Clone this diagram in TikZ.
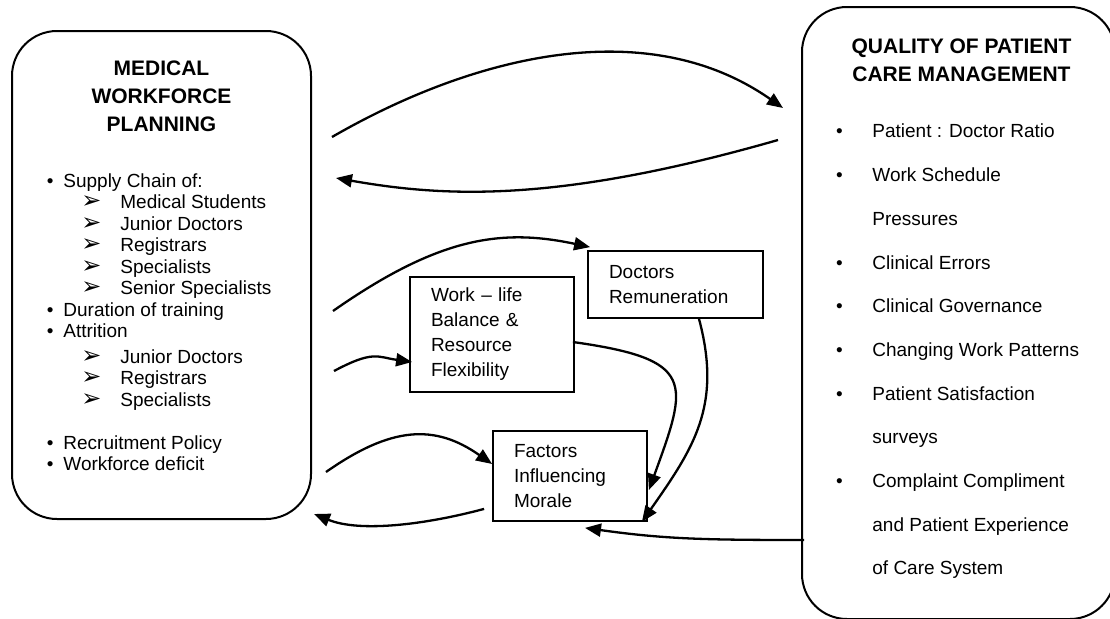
\documentclass[tikz,border=0pt]{standalone}
\usepackage{fontspec}
\setmainfont{Liberation Sans}
\newfontfamily\dingfont{DejaVu Sans}
\usetikzlibrary{arrows.meta, positioning}

% list markers
\newcommand{\lbul}{\makebox[8.25pt][l]{•}}
\newcommand{\lsub}{\hspace*{17.25pt}\makebox[19.5pt][l]{\smash{\dingfont\fontsize{12}{12}\selectfont ➢}}}
\newcommand{\rbul}{\makebox[18.15pt][l]{•}}
\newcommand{\rgap}{\hspace*{18.15pt}}

\begin{document}
\begin{tikzpicture}[
    x=0.5pt, y=0.5pt,
    panel/.style={draw, line width=1pt, rounded corners=22.5pt, inner sep=0pt},
    heading/.style={align=center, inner sep=0pt,
                    font=\fontsize{10.5}{14}\selectfont\bfseries},
    items/.style={align=left, inner sep=0pt, anchor=west},
    factor/.style={draw, line width=0.9pt, align=left, inner xsep=10.5pt,
                   font=\fontsize{9.5}{12.5}\selectfont},
    arrow/.style={-{Triangle[length=8pt,width=6.5pt]}, line width=1.15pt}
]
    \useasboundingbox (0,0) rectangle (1110,618);

    % The two main panels
    \node[panel, minimum width=149.5pt, minimum height=244pt] (planning) at (161.5,343) {};
    \node[panel, minimum width=156.5pt, minimum height=306pt] (care) at (958.5,305) {};

    \node[heading] (planning-title) at (161.5,521.5) {MEDICAL\\WORKFORCE\\PLANNING};
    \node[items, font=\fontsize{9.5}{10.75}\selectfont] (planning-list) at (46.5,296) {%
        \lbul Supply Chain of:\\
        \lsub Medical Students\\
        \lsub Junior Doctors\\
        \lsub Registrars\\
        \lsub Specialists\\
        \lsub Senior Specialists\\
        \lbul Duration of training\\
        \lbul Attrition\\[2pt]
        \lsub Junior Doctors\\
        \lsub Registrars\\
        \lsub Specialists\\[10.75pt]
        \lbul Recruitment Policy\\
        \lbul Workforce deficit};

    \node[heading] (care-title) at (961.5,558) {QUALITY OF PATIENT\\CARE MANAGEMENT};
    \node[items, font=\fontsize{9.5}{21.85}\selectfont] (care-list) at (835.7,266.5) {%
        \rbul Patient : Doctor Ratio\\
        \rbul Work Schedule\\
        \rgap Pressures\\
        \rbul Clinical Errors\\
        \rbul Clinical Governance\\
        \rbul Changing Work Patterns\\
        \rbul Patient Satisfaction\\
        \rgap surveys\\
        \rbul Complaint Compliment\\
        \rgap and Patient Experience\\
        \rgap of Care System};

    % Factors in between
    \node[factor, text width=66.5pt, minimum height=33.5pt] (pay) at (675.5,333.5) {Doctors\\Remuneration};
    \node[factor, text width=61pt, minimum height=57.5pt] (balance) at (492,283.5) {Work – life\\Balance \&\\Resource\\Flexibility};
    \node[factor, text width=56pt, minimum height=45pt] (morale) at (570,142) {Factors\\Influencing\\Morale};

    % Loop between the panels
    \draw[arrow] ([shift={(20,138)}]planning.east) .. controls +(30:165) and +(145:165) .. ([shift={(-18,205)}]care.west);
    \draw[arrow] ([shift={(-23,173)}]care.west) .. controls +(196:230) and +(-10:110) .. ([shift={(24,97)}]planning.east);

    % Into the factors
    \draw[arrow] ([shift={(21,-36)}]planning.east) .. controls +(35:130) and +(168:90) .. ([shift={(3,3)}]pay.north west);
    \draw[arrow] ([shift={(22,-96)}]planning.east) .. controls +(28:45) and +(172:35) .. ([shift={(3,-27.5)}]balance.west);
    \draw[arrow] ([shift={(14,48)}]planning.south east) .. controls +(35:80) and +(145:70) .. ([shift={(0,12)}]morale.west);

    % Morale feedback
    \draw[arrow] ([shift={(-8,13)}]morale.south west) .. controls +(195:60) and +(-22:50) .. ([shift={(2,6)}]planning.south east);
    \draw[arrow] ([shift={(-2,-7.5)}]balance.east) .. controls +(-8:125) and +(70:115) .. ([shift={(1,-14)}]morale.east);
    \draw[arrow] ([shift={(23.5,0)}]pay.south) .. controls +(-75:90) and +(55:90) .. ([shift={(-6,0)}]morale.south east);
    \draw[arrow] ([shift={(3,-227)}]care.west) .. controls +(180:100) and +(-8:80) .. ([shift={(15,-6)}]morale.south);
\end{tikzpicture}
\end{document}
